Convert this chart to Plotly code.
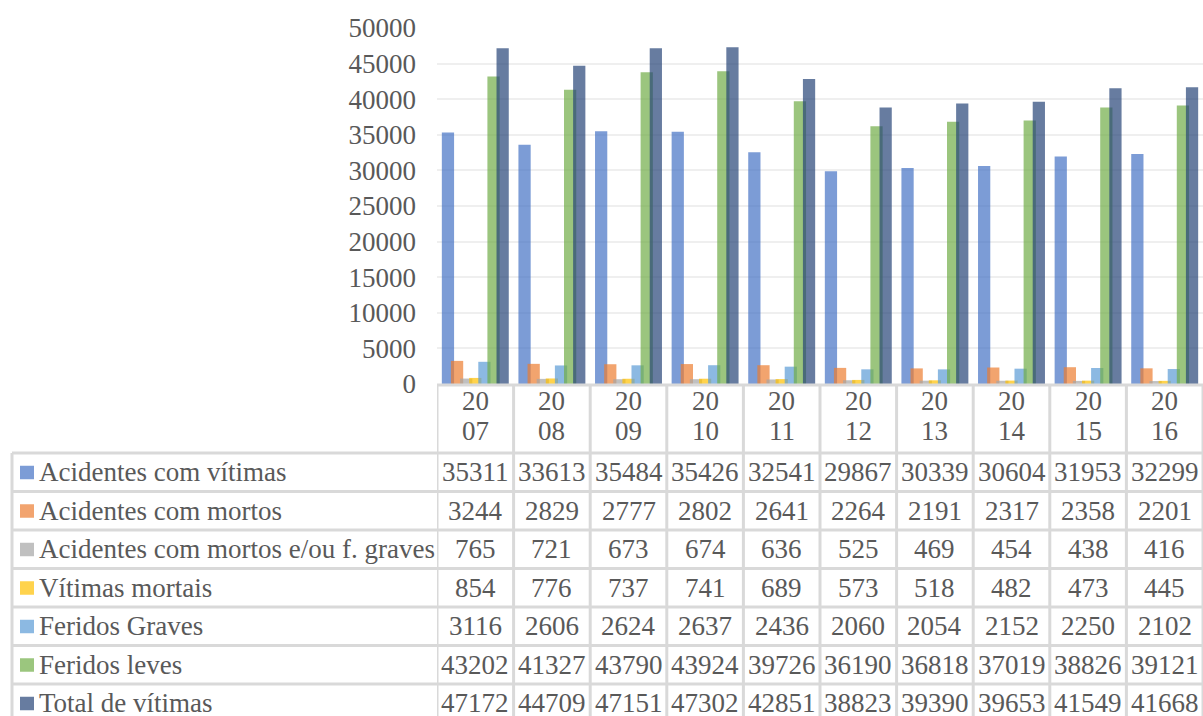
import plotly.graph_objects as go

years = ["2007", "2008", "2009", "2010", "2011", "2012", "2013", "2014", "2015", "2016"]
series_names = [
    "Acidentes com vítimas",
    "Acidentes com mortos",
    "Acidentes com mortos e/ou f. graves",
    "Vítimas mortais",
    "Feridos Graves",
    "Feridos leves",
    "Total de vítimas",
]
acidentes_vitimas = [35311, 33613, 35484, 35426, 32541, 29867, 30339, 30604, 31953, 32299]
acidentes_mortos = [3244, 2829, 2777, 2802, 2641, 2264, 2191, 2317, 2358, 2201]
acidentes_mortos_fg = [765, 721, 673, 674, 636, 525, 469, 454, 438, 416]
vitimas_mortais = [854, 776, 737, 741, 689, 573, 518, 482, 473, 445]
feridos_graves = [3116, 2606, 2624, 2637, 2436, 2060, 2054, 2152, 2250, 2102]
feridos_leves = [43202, 41327, 43790, 43924, 39726, 36190, 36818, 37019, 38826, 39121]
total_vitimas = [47172, 44709, 47151, 47302, 42851, 38823, 39390, 39653, 41549, 41668]
y_ticks = [0, 5000, 10000, 15000, 20000, 25000, 30000, 35000, 40000, 45000, 50000]

series_values = [acidentes_vitimas, acidentes_mortos, acidentes_mortos_fg,
                 vitimas_mortais, feridos_graves, feridos_leves, total_vitimas]
colors = ["#4472C4", "#ED7D31", "#A5A5A5", "#FFC000", "#5B9BD5", "#70AD47", "#264478"]

W, H = 1203, 716
ML, MR, MT, MB = 437, 0, 28, 332
PW = W - ML - MR
PH = H - MT - MB
FONT = "Liberation Serif, Times New Roman, Times, serif"
TXT = "#595959"
GRID = "#d9d9d9"
FS = 27


def px_y(py):
    return (H - MB - py) / PH


def px_x(px):
    return (px - ML) / PW


def faded(hexcol, a=0.7):
    r, g, b = int(hexcol[1:3], 16), int(hexcol[3:5], 16), int(hexcol[5:7], 16)
    f = lambda c: int(round(a * c + (1 - a) * 255))
    return "#%02x%02x%02x" % (f(r), f(g), f(b))


bar_w = 0.16
step = 0.119
start = -(6 * step + bar_w) / 2

fig = go.Figure()
for i, (name, vals, col) in enumerate(zip(series_names, series_values, colors)):
    fig.add_trace(go.Bar(
        x=years, y=vals, name=name,
        marker=dict(color=col, opacity=0.7, line=dict(width=0)),
        width=bar_w, offset=start + i * step,
        showlegend=False,
    ))

shapes = []
annotations = []

row_top = 453
row_h = 38.5
n_rows = len(series_names)
table_bottom = row_top + row_h * n_rows

# axis line
shapes.append(dict(type="line", xref="paper", yref="paper", x0=0, x1=1,
                   y0=px_y(385), y1=px_y(385), line=dict(color=GRID, width=3)))
# vertical column borders
for i in range(len(years) + 1):
    shapes.append(dict(type="line", xref="x", yref="paper", x0=i - 0.5, x1=i - 0.5,
                       y0=px_y(385), y1=px_y(table_bottom), line=dict(color=GRID, width=3)))
# left border of label column
shapes.append(dict(type="line", xref="paper", yref="paper", x0=px_x(12), x1=px_x(12),
                   y0=px_y(row_top), y1=px_y(table_bottom), line=dict(color=GRID, width=3)))
# horizontal row borders
for r in range(n_rows + 1):
    yy = px_y(row_top + r * row_h)
    shapes.append(dict(type="line", xref="paper", yref="paper", x0=px_x(12), x1=1,
                       y0=yy, y1=yy, line=dict(color=GRID, width=3)))

# year labels (two lines), positioned by category index on the x axis
for i, yr in enumerate(years):
    annotations.append(dict(x=i, xref="x", y=px_y(401), yref="paper", text=yr[:2],
                            showarrow=False, xanchor="center", yanchor="middle",
                            font=dict(family=FONT, size=FS, color=TXT)))
    annotations.append(dict(x=i, xref="x", y=px_y(431), yref="paper", text=yr[2:],
                            showarrow=False, xanchor="center", yanchor="middle",
                            font=dict(family=FONT, size=FS, color=TXT)))

# table rows
for r, (name, vals, col) in enumerate(zip(series_names, series_values, colors)):
    cy = row_top + r * row_h + row_h / 2
    shapes.append(dict(type="rect", xref="paper", yref="paper",
                       x0=px_x(20), x1=px_x(34), y0=px_y(cy - 6.5), y1=px_y(cy + 7),
                       fillcolor=faded(col), line=dict(width=0)))
    annotations.append(dict(x=px_x(37), xref="paper", y=px_y(cy), yref="paper", text=name,
                            showarrow=False, xanchor="left", yanchor="middle",
                            font=dict(family=FONT, size=FS, color=TXT)))
    for i, v in enumerate(vals):
        annotations.append(dict(x=i, xref="x", y=px_y(cy), yref="paper", text=str(v),
                                showarrow=False, xanchor="center", yanchor="middle",
                                font=dict(family=FONT, size=FS, color=TXT)))

fig.update_layout(
    width=W, height=H,
    margin=dict(l=ML, r=MR, t=MT, b=MB, autoexpand=False),
    plot_bgcolor="white", paper_bgcolor="white",
    barmode="overlay",
    font=dict(family=FONT, size=FS, color=TXT),
    shapes=shapes, annotations=annotations,
    xaxis=dict(type="category", range=[-0.5, len(years) - 0.5], showticklabels=False,
               showgrid=False, zeroline=False, showline=False, ticks=""),
    yaxis=dict(range=[0, 50000], tickvals=y_ticks, ticktext=[str(t) for t in y_ticks],
               showgrid=True, gridcolor="#efefef", gridwidth=2, zeroline=False,
               showline=False, ticks="", ticklabelstandoff=20,
               tickfont=dict(family=FONT, size=FS, color=TXT)),
)

fig.write_html("out.html")
